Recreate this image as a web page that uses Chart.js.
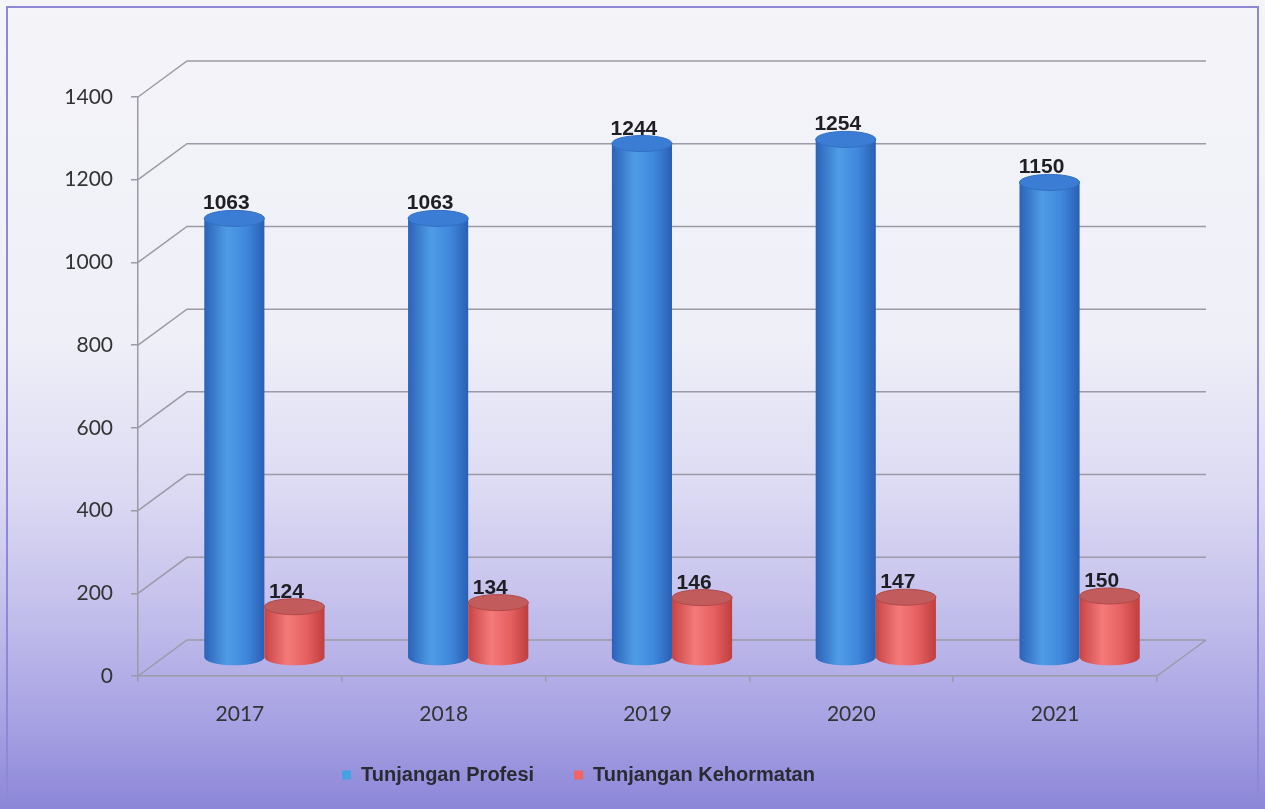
<!DOCTYPE html>
<html>
<head>
<meta charset="utf-8">
<script src="https://cdn.jsdelivr.net/npm/chart.js@4"></script>
<style>
  html, body { margin: 0; padding: 0; background: #f4f4f9; }
  #wrap { width: 1265px; height: 809px; }
</style>
</head>
<body>
<div id="wrap"><canvas id="tunjanganChart"></canvas></div>
<script>
const years = ['2017', '2018', '2019', '2020', '2021'];
const profesi = [1063, 1063, 1244, 1254, 1150];
const kehormatan = [124, 134, 146, 147, 150];
const yTicks = [0, 200, 400, 600, 800, 1000, 1200, 1400];

// 3d depth offset of the back wall
const DX = 49;
const DY = -36;
const gridColor = '#9b9aa6';

const cylColors = [
  { side: ['#2b62b8', '#4f9ce6', '#3f88dc', '#2a5fb4'], top: '#3b7dd4', rim: '#3270c4' },
  { side: ['#c84444', '#f47a7a', '#e66060', '#bf3e3e'], top: '#c25c5c', rim: '#b04848' }
];

function drawCylinder(ctx, cx, yTop, yBot, rx, ry, c) {
  const g = ctx.createLinearGradient(cx - rx, 0, cx + rx, 0);
  g.addColorStop(0, c.side[0]);
  g.addColorStop(0.38, c.side[1]);
  g.addColorStop(0.7, c.side[2]);
  g.addColorStop(1, c.side[3]);
  ctx.beginPath();
  ctx.moveTo(cx - rx, yTop);
  ctx.lineTo(cx - rx, yBot);
  ctx.ellipse(cx, yBot, rx, ry, 0, Math.PI, 0, true);
  ctx.lineTo(cx + rx, yTop);
  ctx.closePath();
  ctx.fillStyle = g;
  ctx.fill();
  ctx.beginPath();
  ctx.ellipse(cx, yTop, rx, ry, 0, 0, Math.PI * 2);
  ctx.fillStyle = c.top;
  ctx.fill();
  ctx.lineWidth = 1;
  ctx.strokeStyle = c.rim;
  ctx.stroke();
}

const bgPlugin = {
  id: 'bg',
  beforeDraw(chart) {
    const ctx = chart.ctx;
    const g = ctx.createLinearGradient(0, 0, 0, chart.height);
    g.addColorStop(0, '#f4f4f9');
    g.addColorStop(0.42, '#efeff8');
    g.addColorStop(0.6, '#dddbf3');
    g.addColorStop(0.75, '#c4c0ec');
    g.addColorStop(0.9, '#a5a0e2');
    g.addColorStop(1, '#8c86d8');
    ctx.save();
    ctx.fillStyle = g;
    ctx.fillRect(0, 0, chart.width, chart.height);
    ctx.strokeStyle = '#8d89d6';
    ctx.lineWidth = 2;
    ctx.strokeRect(7, 7, 1251, 830);
    ctx.restore();
  }
};

const wallPlugin = {
  id: 'walls',
  beforeDatasetsDraw(chart) {
    const ctx = chart.ctx;
    const y = chart.scales.y;
    const a = chart.chartArea;
    ctx.save();
    ctx.strokeStyle = gridColor;
    ctx.lineWidth = 1.5;
    ctx.beginPath();
    yTicks.forEach(v => {
      const py = y.getPixelForValue(v);
      ctx.moveTo(a.left, py);
      ctx.lineTo(a.left + DX, py + DY);
      ctx.lineTo(a.right + DX, py + DY);
    });
    const p0 = y.getPixelForValue(0);
    ctx.moveTo(a.right, p0);
    ctx.lineTo(a.right + DX, p0 + DY);
    ctx.stroke();
    ctx.restore();
  },
  beforeDatasetDraw() {
    return false;
  },
  afterDatasetsDraw(chart) {
    const ctx = chart.ctx;
    const ry = 8;
    ctx.save();
    const metas = [chart.getDatasetMeta(0), chart.getDatasetMeta(1)];
    years.forEach((yr, j) => {
      metas.forEach((meta, i) => {
        const bar = meta.data[j];
        const cx = bar.x + DX / 2;
        const top = bar.y + DY / 2;
        const bot = bar.base + DY / 2;
        drawCylinder(ctx, cx, top, bot, bar.width / 2, ry, cylColors[i]);
      });
    });
    ctx.font = 'bold 21px "Liberation Sans", Arial, sans-serif';
    ctx.fillStyle = '#1e1e24';
    ctx.textAlign = 'center';
    ctx.textBaseline = 'alphabetic';
    metas.forEach((meta, i) => {
      const vals = i === 0 ? profesi : kehormatan;
      meta.data.forEach((bar, j) => {
        ctx.fillText(String(vals[j]), bar.x + DX / 2 - 8, bar.y + DY / 2 - 9);
      });
    });
    ctx.restore();
  }
};

const ctx = document.getElementById('tunjanganChart').getContext('2d');
const chart = new Chart(ctx, {
  type: 'bar',
  data: {
    labels: years,
    datasets: [
      { label: 'Tunjangan Profesi', data: profesi, backgroundColor: '#45a0e4' },
      { label: 'Tunjangan Kehormatan', data: kehormatan, backgroundColor: '#f06464' }
    ]
  },
  options: {
    responsive: true,
    maintainAspectRatio: false,
    animation: false,
    categoryPercentage: 0.59,
    barPercentage: 1.0,
    layout: { padding: { left: 0, right: 108, top: 97, bottom: 14 } },
    plugins: {
      tooltip: { enabled: false },
      legend: {
        position: 'bottom',
        labels: {
          usePointStyle: true,
          pointStyle: 'rect',
          boxWidth: 9,
          boxHeight: 9,
          padding: 40,
          color: '#2a2a33',
          font: { family: '"Liberation Sans", Arial, sans-serif', size: 20, weight: 'bold' }
        }
      }
    },
    scales: {
      x: {
        grid: { drawOnChartArea: false, drawTicks: true, tickLength: 6, color: gridColor, lineWidth: 1.5 },
        border: { display: true, color: gridColor, width: 1.5 },
        ticks: { padding: 20, color: '#333', font: { family: 'Lato, sans-serif', size: 21 } },
        afterFit(s) {
          const lh = s.chart.legend ? s.chart.legend.height : 70;
          s.height = s.chart.height - 676 - lh - 14;
        }
      },
      y: {
        min: 0,
        max: 1400,
        grid: { drawOnChartArea: false, drawTicks: true, tickLength: 7, color: gridColor, lineWidth: 1.5 },
        border: { display: true, color: gridColor, width: 1.5 },
        ticks: {
          stepSize: 200,
          padding: 18,
          color: '#333',
          font: { family: 'Lato, sans-serif', size: 21 },
          callback: v => String(v)
        },
        afterFit(s) { s.width = 138; }
      }
    }
  },
  plugins: [bgPlugin, wallPlugin]
});
</script>
</body>
</html>
